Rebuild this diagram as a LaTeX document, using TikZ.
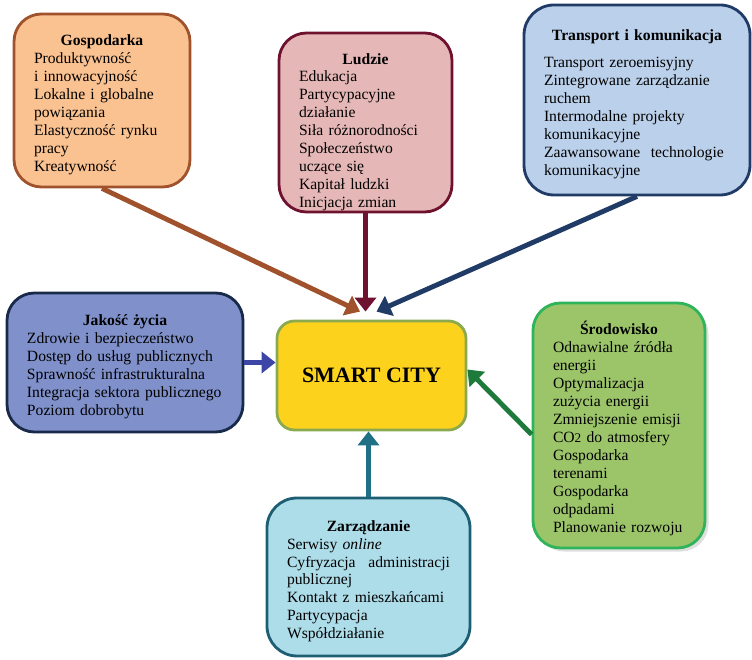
\documentclass[tikz,border=0pt]{standalone}
\usepackage{fontspec}
\setmainfont{Liberation Serif}
\usepackage{xcolor}
\usepackage{tikz}
\usetikzlibrary{arrows.meta}
\usetikzlibrary{shadows}

\definecolor{gospFill}{HTML}{FAC191}
\definecolor{gospLine}{HTML}{A0522D}
\definecolor{ludzFill}{HTML}{E5B8B7}
\definecolor{ludzLine}{HTML}{6E1230}
\definecolor{transFill}{HTML}{BBD0EA}
\definecolor{transLine}{HTML}{1F3B66}
\definecolor{jakFill}{HTML}{7F90CA}
\definecolor{jakLine}{HTML}{18294A}
\definecolor{jakArrow}{HTML}{3C46A6}
\definecolor{smartFill}{HTML}{FCD21D}
\definecolor{smartLine}{HTML}{8BA94F}
\definecolor{srodFill}{HTML}{9CC56A}
\definecolor{srodLine}{HTML}{2FB45C}
\definecolor{srodArrow}{HTML}{1D7A3B}
\definecolor{zarzFill}{HTML}{AEDDEA}
\definecolor{zarzLine}{HTML}{1E5E72}
\definecolor{zarzArrow}{HTML}{1F6F85}

\newcommand{\tytul}[2][0pt]{\makebox[\hsize][c]{\rule{0pt}{#1}\bfseries #2}}

\begin{document}
\begin{tikzpicture}[box/.style={draw,rounded corners=0.55cm,line width=1.6pt,align=left,
    inner xsep=0.4cm,inner ysep=0pt,font=\fontsize{8.9}{10.2}\selectfont,
    execute at begin node={\hyphenpenalty=10000\relax}},
  arr/.style={line width=2.8pt,-{Triangle[length=8pt,width=12pt]}}]
          \useasboundingbox (0,0) rectangle (15.04,13.2);
          \node[box,draw=gospLine,fill=gospFill,text width=2.72cm,minimum width=3.52cm,minimum height=3.46cm]
            (gosp) at (2.04,11.19) {\tytul[11pt]{Gospodarka}\\Produktywność\\i innowacyjność\\Lokalne i globalne\\powiązania\\Elastyczność rynku\\pracy\\Kreatywność};
          \node[box,draw=ludzLine,fill=ludzFill,text width=2.66cm,minimum width=3.46cm,minimum height=3.58cm]
            (ludzie) at (7.31,10.75) {\tytul[17pt]{Ludzie}\\Edukacja\\Partycypacyjne\\działanie\\Siła różnorodności\\Społeczeństwo\\uczące się\\Kapitał ludzki\\Inicjacja zmian};
          \node[box,draw=transLine,fill=transFill,text width=3.72cm,minimum width=4.52cm,minimum height=3.8cm,rounded corners=0.6cm]
            (transport) at (12.74,11.2) {\tytul[11pt]{Transport i komunikacja}\\[5pt]Transport zeroemisyjny\\Zintegrowane zarządzanie\\ruchem\\Intermodalne projekty\\komunikacyjne\\Zaawansowane\ \ technologie\\komunikacyjne};
          \node[box,draw=jakLine,fill=jakFill,text width=3.92cm,minimum width=4.72cm,minimum height=2.78cm]
            (jakosc) at (2.5,5.95) {\tytul[11pt]{Jakość życia}\\Zdrowie i bezpieczeństwo\\Dostęp do usług publicznych\\Sprawność infrastrukturalna\\Integracja sektora publicznego\\Poziom dobrobytu};
          \node[box,draw=smartLine,fill=smartFill,minimum width=3.78cm,minimum height=2.18cm,rounded corners=0.35cm,
            font=\fontsize{12.5}{15}\selectfont\bfseries] (smart) at (7.43,5.69) {SMART CITY};
          \node[box,draw=srodLine,fill=srodFill,text width=2.64cm,minimum width=3.44cm,minimum height=4.9cm,
            drop shadow={opacity=0.25,shadow xshift=2pt,shadow yshift=-2pt}]
            (srod) at (12.38,4.69) {\tytul[11pt]{Środowisko}\\Odnawialne źródła\\energii\\Optymalizacja\\zużycia energii\\Zmniejszenie emisji\\CO{\fontsize{7.5}{8}\selectfont 2} do atmosfery\\Gospodarka\\terenami\\Gospodarka\\odpadami\\Planowanie rozwoju};
          \node[box,draw=zarzLine,fill=zarzFill,text width=3.26cm,minimum width=4.06cm,minimum height=3.16cm,rounded corners=0.6cm]
            (zarz) at (7.37,1.66) {\tytul[11pt]{Zarządzanie}\\Serwisy \textit{online}\\Cyfryzacja\hfill administracji\\publicznej\\Kontakt z mieszkańcami\\Partycypacja\\Współdziałanie};
            \draw[arr,gospLine] (gosp.south) -- ([shift={(-0.23,0.16)}]smart.north);
            \draw[arr,ludzLine] (ludzie.south) -- ([yshift=0.16cm]ludzie.south |- smart.north);
            \draw[arr,transLine] (transport.south) -- ([shift={(0.1,0.16)}]smart.north);
            \draw[arr,jakArrow] (jakosc.east) -- (jakosc.east -| smart.west);
            \draw[arr,srodArrow] ([yshift=-0.18cm]srod.west) -- ([yshift=0.12cm]smart.east);
            \draw[arr,zarzArrow] (zarz.north) -- (zarz.north |- smart.south);
        \end{tikzpicture}
\end{document}
